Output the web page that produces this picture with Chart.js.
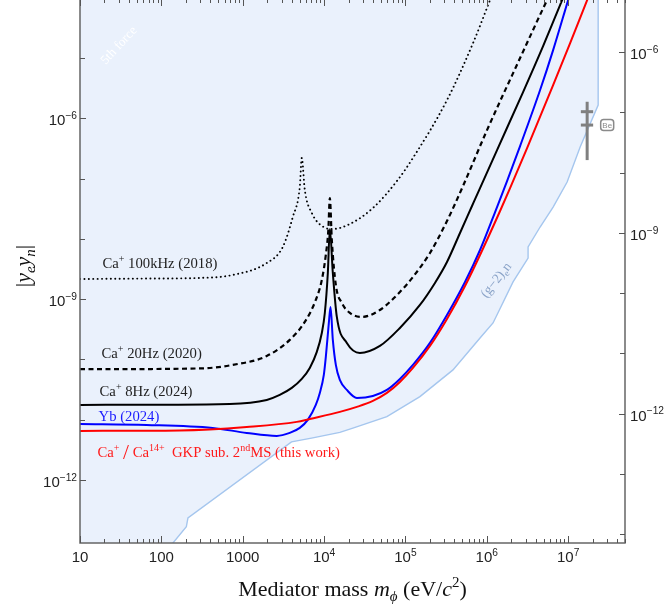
<!DOCTYPE html>
<html><head><meta charset="utf-8">
<script src="https://cdn.jsdelivr.net/npm/chart.js@4/dist/chart.umd.min.js"></script>
<style>html,body{margin:0;padding:0;background:#fff;}#wrap{width:666px;height:609px;}canvas{display:block;}</style>
</head><body><div id="wrap"><canvas id="c" width="666" height="609"></canvas></div>
<script>
// ---------- axis ranges & ticks ----------
const xRange = [10, 5e7];
const yRange = [9e-14, 9.2e-5];
const rightFactor = 1 / (4 * Math.PI);          // right axis = left axis / (4π)
const xMajorTicks = [10, 100, 1000, 1e4, 1e5, 1e6, 1e7];
const xTickLabels = [['10'], ['100'], ['1000'], ['10', '4'], ['10', '5'], ['10', '6'], ['10', '7']];
const yMajorTicks = [1e-12, 1e-9, 1e-6];
const yTickLabels = [['10', '−12'], ['10', '−9'], ['10', '−6']];
const yMinorTicks = [1e-11, 1e-10, 1e-8, 1e-7, 1e-5];
const y2MajorTicks = [1e-12, 1e-9, 1e-6];
const y2TickLabels = [['10', '−12'], ['10', '−9'], ['10', '−6']];
const y2MinorTicks = [1e-14, 1e-13, 1e-11, 1e-10, 1e-8, 1e-7];

// ---------- series ----------
const ca2018M = [10, 71.6, 296, 753, 1974, 3107, 4125, 5029, 5323, 5797, 7068, 9859, 12815, 20748, 39811, 78630, 123700, 324200, 677200, 1.096e6, 1.30e6];
const ca2018Y = [2.16e-9, 2.20e-9, 2.25e-9, 2.52e-9, 3.98e-9, 7.34e-9, 2.31e-8, 7.26e-8, 2.20e-7, 6.47e-8, 2.69e-8, 1.575e-8, 1.459e-8, 1.767e-8, 3.25e-8, 9.12e-8, 2.20e-7, 2.01e-6, 1.77e-5, 9.16e-5, 1.63e-4];

const ca2020M = [10, 296, 753, 1974, 3788, 5797, 7914, 9383, 10508, 11282, 11773, 12457, 13951, 16539, 20748, 29151, 48563, 85570, 123700, 200300, 324200, 510300, 1.007e6, 2.566e6, 5.513e6, 6.538e6];
const ca2020Y = [6.88e-11, 7.09e-11, 8.11e-11, 1.14e-10, 2.11e-10, 4.19e-10, 9.70e-10, 2.08e-9, 5.41e-9, 1.405e-8, 4.77e-8, 9.59e-9, 1.72e-9, 8.65e-10, 5.90e-10, 5.07e-10, 6.62e-10, 1.316e-9, 2.33e-9, 5.84e-9, 1.98e-8, 7.54e-8, 6.39e-7, 1.0e-5, 9.16e-5, 1.45e-4];

const ca2024M = [10, 692, 1974, 2853, 4010, 5323, 6675, 8143, 9383, 10215, 11122, 11773, 12815, 14354, 19055, 27541, 48563, 85570, 150800, 230700, 324200, 468600, 658300, 826100, 1.337e6, 2.794e6, 4.923e6, 8.437e6, 9.721e6];
const ca2024Y = [1.76e-11, 1.83e-11, 2.13e-11, 2.58e-11, 3.37e-11, 4.75e-11, 7.23e-11, 1.332e-10, 2.75e-10, 5.90e-10, 2.72e-9, 1.459e-8, 2.72e-9, 5.07e-10, 1.88e-10, 1.282e-10, 1.675e-10, 3.33e-10, 8.01e-10, 1.86e-9, 4.14e-9, 1.253e-8, 3.51e-8, 6.98e-8, 2.98e-7, 2.73e-6, 1.58e-5, 9.16e-5, 1.45e-4];

const ybM = [10, 65.8, 427, 1120, 2621, 3788, 5029, 6310, 7914, 8867, 9931, 10508, 11443, 12010, 12815, 13951, 15623, 19055, 25303, 39811, 59198, 85570, 123700, 200300, 324200, 540000, 826100, 1.337e6, 1.775e6, 2.566e6, 4.523e6, 6.538e6, 1e7, 1.089e7];
const ybY = [8.52e-12, 8.20e-12, 7.31e-12, 6.04e-12, 5.39e-12, 6.04e-12, 7.31e-12, 9.92e-12, 1.76e-11, 2.78e-11, 5.53e-11, 1.10e-10, 4.03e-10, 7.42e-10, 2.11e-10, 8.11e-11, 4.57e-11, 3.12e-11, 2.30e-11, 2.48e-11, 3.12e-11, 4.75e-11, 8.11e-11, 1.88e-10, 5.47e-10, 1.93e-9, 6.54e-9, 3.38e-8, 9.12e-8, 3.47e-7, 2.95e-6, 1.357e-5, 9.16e-5, 1.34e-4];

const gkpM = [10, 167.7, 1120, 4620, 6675, 15623, 25303, 39811, 59198, 85570, 123700, 200300, 324200, 540000, 826100, 1.456e6, 1.933e6, 3.129e6, 6.538e6, 1.058e7, 1.713e7, 1.919e7];
const gkpY = [6.52e-12, 6.65e-12, 7.60e-12, 9.20e-12, 1.03e-11, 1.347e-11, 1.631e-11, 2.05e-11, 2.78e-11, 4.23e-11, 7.23e-11, 1.675e-10, 4.69e-10, 1.656e-9, 5.41e-9, 2.90e-8, 6.98e-8, 3.22e-7, 3.57e-6, 1.773e-5, 9.16e-5, 1.34e-4];

// (g-2)_e n excluded-region boundary (region above is shaded)
const g2M = [10, 98, 202.8, 212.3, 3977, 7268, 15623, 22590, 59198, 150800, 384300, 826100, 1.194e6, 2.104e6, 3.219e6, 3.219e6, 4.523e6, 6.538e6, 9.721e6, 1.405e7, 2.34e7, 2.34e7];
const g2Y = [5.1e-14, 5.1e-14, 1.67e-13, 2.35e-13, 4.28e-12, 4.99e-12, 6.16e-12, 7.23e-12, 1.125e-11, 2.42e-11, 6.70e-11, 2.27e-10, 4.03e-10, 1.93e-9, 4.82e-9, 7.34e-9, 1.575e-8, 3.38e-8, 8.78e-8, 3.34e-7, 1.66e-6, 1.34e-4];

// Be point with error bar
const beMass = 1.713e7;
const beRange = [2.03e-7, 1.885e-6];
const beCaps = [7.74e-7, 1.29e-6];
const beCapM = [1.433e7, 2.03e7];

// ---------- annotation anchors (data coords) ----------
const annot = {
  ca2018: [18.9, 3.29e-9],
  ca2020: [18.4, 1.06e-10],
  ca2024: [17.4, 2.48e-11],
  yb: [16.9, 9.38e-12],
  gkp: [16.4, 2.37e-12],
  fifth: [29.8, 1.64e-5],
  g2: [1.30e6, 2.08e-9],
  be: [3.02e7, 7.74e-7]
};

const zip = (a, b) => a.map((v, i) => ({x: v, y: b[i]}));

// ---------- rich text helper ----------
const SERIF = '"Liberation Serif", "Times New Roman", serif';
const SANS = '"Liberation Sans", Arial, sans-serif';
function fontFor(p, size, fam) {
  const k = (p.s === 'sup' || p.s === 'sub') ? 0.68 : (p.k || 1);
  return (p.i ? 'italic ' : '') + (size * k).toFixed(2) + 'px ' + fam;
}
function richWidth(ctx, parts, size, fam) {
  let w = 0;
  for (const p of parts) { ctx.font = fontFor(p, size, fam); w += ctx.measureText(p.t).width + (p.dx || 0); }
  return w;
}
function drawRich(ctx, parts, x, y, size, fam, color, align) {
  const w = richWidth(ctx, parts, size, fam);
  let cx = align === 'center' ? x - w / 2 : align === 'right' ? x - w : x;
  ctx.fillStyle = color; ctx.textBaseline = 'alphabetic'; ctx.textAlign = 'left';
  for (const p of parts) {
    ctx.font = fontFor(p, size, fam);
    let dy = 0;
    if (p.s === 'sup') dy = -size * 0.42;
    if (p.s === 'sub') dy = size * 0.22;
    ctx.fillText(p.t, cx, y + dy + (p.dy || 0));
    cx += ctx.measureText(p.t).width + (p.dx || 0);
  }
  return w;
}

const decor = {
  id: 'decor',
  afterDraw(chart) {
    const {ctx, chartArea: a, scales} = chart;
    const X = scales.x, Y = scales.y, Y2 = scales.y2;
    ctx.save();
    // frame
    ctx.strokeStyle = '#666'; ctx.lineWidth = 1.5;
    ctx.beginPath();
    ctx.moveTo(a.left, a.top); ctx.lineTo(a.left, a.bottom); ctx.lineTo(a.right, a.bottom); ctx.lineTo(a.right, a.top);
    ctx.stroke();
    // x ticks (bottom & top, inward)
    ctx.lineWidth = 1; ctx.strokeStyle = '#555';
    ctx.beginPath();
    for (let d = 1; d <= 7; d++) {
      for (let k = 1; k <= 9; k++) {
        const v = k * Math.pow(10, d);
        if (v < xRange[0] || v > xRange[1]) continue;
        const px = Math.round(X.getPixelForValue(v)) + 0.5;
        const len = k === 1 ? 7 : 4;
        ctx.moveTo(px, a.bottom); ctx.lineTo(px, a.bottom - len);
        ctx.moveTo(px, a.top); ctx.lineTo(px, a.top + len - 1);
      }
    }
    // left ticks
    for (const v of yMajorTicks) { const py = Math.round(Y.getPixelForValue(v)) + 0.5; ctx.moveTo(a.left, py); ctx.lineTo(a.left + 6, py); }
    for (const v of yMinorTicks) { const py = Math.round(Y.getPixelForValue(v)) + 0.5; ctx.moveTo(a.left, py); ctx.lineTo(a.left + 5, py); }
    // right ticks
    for (const v of y2MajorTicks) { const py = Math.round(Y2.getPixelForValue(v)) + 0.5; ctx.moveTo(a.right, py); ctx.lineTo(a.right - 6, py); }
    for (const v of y2MinorTicks) { const py = Math.round(Y2.getPixelForValue(v)) + 0.5; ctx.moveTo(a.right, py); ctx.lineTo(a.right - 5, py); }
    ctx.stroke();

    // tick labels
    const TS = 15;
    xMajorTicks.forEach((v, i) => {
      const lab = xTickLabels[i];
      const parts = [{t: lab[0]}];
      if (lab[1]) parts.push({t: lab[1], s: 'sup'});
      drawRich(ctx, parts, X.getPixelForValue(v), a.bottom + 19, TS, SANS, '#222', 'center');
    });
    yMajorTicks.forEach((v, i) => {
      const lab = yTickLabels[i];
      drawRich(ctx, [{t: lab[0]}, {t: lab[1], s: 'sup'}], a.left - 3, Y.getPixelForValue(v) + 7, TS, SANS, '#222', 'right');
    });
    y2MajorTicks.forEach((v, i) => {
      const lab = y2TickLabels[i];
      drawRich(ctx, [{t: lab[0]}, {t: lab[1], s: 'sup'}], a.right + 5, Y2.getPixelForValue(v) + 7, TS, SANS, '#222', 'left');
    });

    // axis titles
    drawRich(ctx, [{t: 'Mediator mass '}, {t: 'm', i: true}, {t: 'ϕ', i: true, s: 'sub'}, {t: ' (eV/'}, {t: 'c', i: true}, {t: '2', s: 'sup'}, {t: ')'}],
      (a.left + a.right) / 2, 596, 22, SERIF, '#111', 'center');
    ctx.save();
    ctx.translate(30, 266); ctx.rotate(-Math.PI / 2);
    drawRich(ctx, [{t: '|'}, {t: 'y', i: true}, {t: 'e', i: true, s: 'sub'}, {t: 'y', i: true}, {t: 'n', i: true, s: 'sub'}, {t: '|'}], 0, 0, 22, SERIF, '#111', 'center');
    ctx.restore();

    // curve labels
    const P = (k) => [X.getPixelForValue(annot[k][0]), Y.getPixelForValue(annot[k][1])];
    const LS = 14.7;
    let p = P('ca2018');
    drawRich(ctx, [{t: 'Ca'}, {t: '+', s: 'sup'}, {t: ' 100kHz (2018)'}], p[0], p[1], LS, SERIF, '#222', 'left');
    p = P('ca2020');
    drawRich(ctx, [{t: 'Ca'}, {t: '+', s: 'sup'}, {t: ' 20Hz (2020)'}], p[0], p[1], LS, SERIF, '#222', 'left');
    p = P('ca2024');
    drawRich(ctx, [{t: 'Ca'}, {t: '+', s: 'sup'}, {t: ' 8Hz (2024)'}], p[0], p[1], LS, SERIF, '#222', 'left');
    p = P('yb');
    drawRich(ctx, [{t: 'Yb (2024)'}], p[0], p[1], LS, SERIF, '#1a1aff', 'left');
    p = P('gkp');
    drawRich(ctx, [{t: 'Ca'}, {t: '+', s: 'sup'}, {t: ' '}, {t: '/', k: 1.45, dy: 2}, {t: ' Ca'}, {t: '14+', s: 'sup'}, {t: '  GKP sub. 2'}, {t: 'nd', s: 'sup'}, {t: 'MS (this work)'}],
      p[0], p[1], LS, SERIF, '#ff1a1a', 'left');

    p = P('fifth');
    ctx.save(); ctx.translate(p[0], p[1]); ctx.rotate(-47 * Math.PI / 180);
    drawRich(ctx, [{t: '5th force'}], 0, 4, 13, SERIF, '#ffffff', 'center');
    ctx.restore();

    p = P('g2');
    ctx.save(); ctx.translate(p[0], p[1]); ctx.rotate(-52 * Math.PI / 180);
    drawRich(ctx, [{t: '(g−2)'}, {t: 'e', s: 'sub'}, {t: 'n'}], 0, 4, 13.5, SERIF, '#8aa3c8', 'center');
    ctx.restore();

    // Be badge
    p = P('be');
    ctx.strokeStyle = '#8a8a8a'; ctx.lineWidth = 1.5;
    ctx.beginPath();
    if (ctx.roundRect) ctx.roundRect(p[0] - 6.5, p[1] - 5.5, 13, 11, 3); else ctx.rect(p[0] - 6.5, p[1] - 5.5, 13, 11);
    ctx.stroke();
    drawRich(ctx, [{t: 'Be'}], p[0], p[1] + 3, 8, SANS, '#8a8a8a', 'center');
    ctx.restore();
  }
};

const line = (data, color, extra) => Object.assign({
  data, borderColor: color, borderWidth: 2, pointRadius: 0, fill: false,
  cubicInterpolationMode: 'monotone', yAxisID: 'y', order: 1
}, extra || {});

new Chart(document.getElementById('c'), {
  type: 'line',
  data: {
    datasets: [
      line(zip(gkpM, gkpY), '#ff0000', {order: 0}),
      line(zip(ybM, ybY), '#0000ff', {order: 1}),
      line(zip(ca2024M, ca2024Y), '#000000', {order: 2}),
      line(zip(ca2020M, ca2020Y), '#000000', {order: 3, borderDash: [5, 3.5], borderWidth: 2.2}),
      line(zip(ca2018M, ca2018Y), '#000000', {order: 4, borderDash: [0.1, 4.3], borderWidth: 1.9, borderCapStyle: 'round'}),
      line([{x: beMass, y: beRange[0]}, {x: beMass, y: beRange[1]}], '#808080', {order: 5, borderWidth: 3, cubicInterpolationMode: 'default', tension: 0}),
      line([{x: beCapM[0], y: beCaps[0]}, {x: beCapM[1], y: beCaps[0]}], '#808080', {order: 5, borderWidth: 3, cubicInterpolationMode: 'default', tension: 0}),
      line([{x: beCapM[0], y: beCaps[1]}, {x: beCapM[1], y: beCaps[1]}], '#808080', {order: 5, borderWidth: 3, cubicInterpolationMode: 'default', tension: 0}),
      line(zip(g2M, g2Y), 'rgb(165,198,238)', {order: 10, borderWidth: 1.4, cubicInterpolationMode: 'default', tension: 0,
        fill: 'end', backgroundColor: 'rgb(234,241,252)'})
    ]
  },
  options: {
    responsive: false, animation: false, devicePixelRatio: 1,
    layout: {padding: {left: 80, right: 41, top: 0, bottom: 66}},
    plugins: {legend: {display: false}, tooltip: {enabled: false}},
    scales: {
      x: {type: 'logarithmic', min: xRange[0], max: xRange[1], display: false},
      y: {type: 'logarithmic', min: yRange[0], max: yRange[1], display: false},
      y2: {type: 'logarithmic', position: 'right', min: yRange[0] * rightFactor, max: yRange[1] * rightFactor, display: false}
    }
  },
  plugins: [decor]
});
</script></body></html>
